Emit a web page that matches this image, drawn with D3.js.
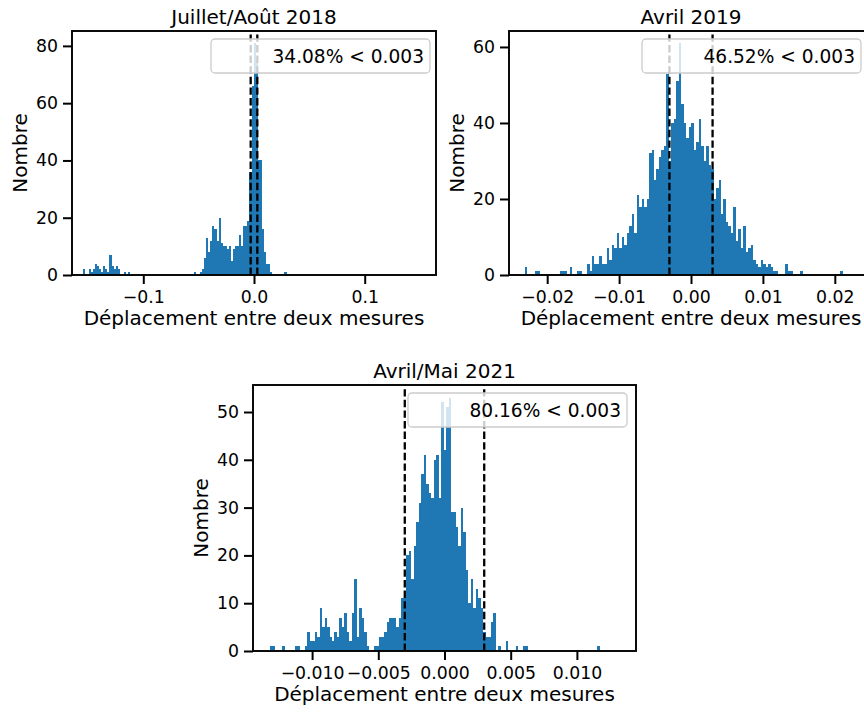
<!DOCTYPE html>
<html><head><meta charset="utf-8">
<script src="https://cdn.jsdelivr.net/npm/d3@7"></script>
<style>body{margin:0;background:#fff}</style>
</head><body>
<script>
// ---------------- DATA ----------------
const titles = ["Juillet/Août 2018", "Avril 2019", "Avril/Mai 2021"];
const legendTexts = ["34.08% < 0.003", "46.52% < 0.003", "80.16% < 0.003"];
const threshold = 0.003;
const xLabelText = "Déplacement entre deux mesures";
const yLabelText = "Nombre";

// Juillet/Août 2018 histogram
const binStart2018 = -0.15474, binWidth2018 = 0.00186;
const counts2018 = [2,0,0,2,1,2,4,3,2,1,3,2,1,7,3,2,3,2,0,0,1,0,1,
  0,0,0,0,0,0,0,0,0,0,0,0,0,0,0,0,0,0,0,0,0,0,0,0,0,0,0,0,0,0,0,
  1,0,0,
  1,2,6,13,8,12,17,16,12,20,11,10,10,9,10,5,9,10,10,14,10,17,17,19,36,66,81,74,40,40,16,8,4,4,1,
  0,0,0,0,0,0,1];
const xTicks2018 = [-0.1, 0, 0.1];
const xTickLabels2018 = ["−0.1", "0.0", "0.1"];
const yTicks2018 = [0, 20, 40, 60, 80];

// Avril 2019 histogram
const binStart2019 = -0.023085, binWidth2019 = 0.000345;
const counts2019 = [2,0,0,0,1,1,0,0,0,0,0,0,0,0,1,1,1,0,2,0,0,1,1,0,0,3,1,5,3,3,
  5,3,3,7,4,8,7,11,7,10,8,11,13,16,11,21,18,20,18,20,32,33,25,28,31,33,34,53,
  30,40,41,51,
  61,45,40,36,39,40,33,35,41,34,30,34,29,28,20,23,25,16,20,14,13,11,18,9,12,7,13,6,7,8,4,3,2,4,3,2,3,
  2,1,1,0,0,0,3,1,1,0,0,0,1,
  0,0,0,0,0,0,0,0,0,0,0,0,0,0,0,1];
const xTicks2019 = [-0.02, -0.01, 0, 0.01, 0.02];
const xTickLabels2019 = ["−0.02", "−0.01", "0.00", "0.01", "0.02"];
const yTicks2019 = [0, 20, 40, 60];

// Avril/Mai 2021 histogram
const binStart2021 = -0.013180, binWidth2021 = 0.0001873;
const counts2021 = [1,1,0,0,0,1,0,0,0,0,1,1,0,0,1,4,2,2,4,3,
  9,5,7,5,3,2,4,3,7,5,8,4,2,8,15,3,9,7,4,1,
  0,0,
  1,1,3,3,4,6,7,7,7,5,7,11,11,
  20,21,15,22,27,31,37,41,35,33,32,40,41,32,52,42,51,53,29,29,26,22,30,25,17,10,15,9,13,11,9,
  4,3,3,6,8,0,1,0,0,2,0,0,0,1,0,0,1,1,
  0,0,0,0,0,0,0,0,0,0,0,0,0,0,0,0,0,0,0,0,0,0,0,0,0,0,0,0,1];
const xTicks2021 = [-0.010, -0.005, 0, 0.005, 0.010];
const xTickLabels2021 = ["−0.010", "−0.005", "0.000", "0.005", "0.010"];
const yTicks2021 = [0, 10, 20, 30, 40, 50];

// ---------------- LAYOUT ----------------
const FONT = "'DejaVu Sans', sans-serif";
const panels = [
  {title: titles[0], legend: legendTexts[0], counts: counts2018, binStart: binStart2018, binWidth: binWidth2018,
   xTicks: xTicks2018, xTickLabels: xTickLabels2018, yTicks: yTicks2018,
   box: {l: 72, r: 436, t: 31, b: 275}, xDom: [-0.1644, 0.1644], yDom: [0, 85.2], legInset: 6},
  {title: titles[1], legend: legendTexts[1], counts: counts2019, binStart: binStart2019, binWidth: binWidth2019,
   xTicks: xTicks2019, xTickLabels: xTickLabels2019, yTicks: yTicks2019,
   box: {l: 509, r: 873, t: 31, b: 275}, xDom: [-0.02531, 0.02531], yDom: [0, 64.2], legInset: 12},
  {title: titles[2], legend: legendTexts[2], counts: counts2021, binStart: binStart2021, binWidth: binWidth2021,
   xTicks: xTicks2021, xTickLabels: xTickLabels2021, yTicks: yTicks2021,
   box: {l: 253, r: 636, t: 385, b: 651}, xDom: [-0.014464, 0.014464], yDom: [0, 55.65], legInset: 9}
];

const svg = d3.select("body").append("svg")
  .attr("width", 864).attr("height", 713)
  .style("font-family", FONT);
svg.append("rect").attr("width", 864).attr("height", 713).attr("fill", "#fff");

panels.forEach(p => {
  const x = d3.scaleLinear().domain(p.xDom).range([p.box.l, p.box.r]);
  const y = d3.scaleLinear().domain(p.yDom).range([p.box.b, p.box.t]);
  const g = svg.append("g");

  const bins = p.counts.map((c, i) => ({x0: p.binStart + i * p.binWidth, x1: p.binStart + (i + 1) * p.binWidth, c}))
    .filter(d => d.c > 0);
  g.append("g").selectAll("rect").data(bins).join("rect")
    .attr("x", d => x(d.x0))
    .attr("width", d => x(d.x1) - x(d.x0))
    .attr("y", d => y(d.c))
    .attr("height", d => y(0) - y(d.c))
    .attr("fill", "#1f77b4")
    .attr("shape-rendering", "crispEdges");

  [-threshold, threshold].forEach(v => {
    g.append("line")
      .attr("x1", x(v)).attr("x2", x(v))
      .attr("y1", p.box.b).attr("y2", p.box.t)
      .attr("stroke", "#000").attr("stroke-width", 2.3)
      .attr("stroke-dasharray", "7.4,3.2");
  });

  // axes
  const xa = g.append("g").attr("transform", `translate(0,${p.box.b})`)
    .call(d3.axisBottom(x).tickValues(p.xTicks).tickFormat((d, i) => p.xTickLabels[i])
      .tickSize(9).tickSizeOuter(0).tickPadding(7));
  const ya = g.append("g").attr("transform", `translate(${p.box.l},0)`)
    .call(d3.axisLeft(y).tickValues(p.yTicks).tickFormat(d3.format("d"))
      .tickSize(9).tickSizeOuter(0).tickPadding(5));
  [xa, ya].forEach(a => {
    a.select(".domain").remove();
    a.selectAll(".tick line").attr("stroke", "#000").attr("stroke-width", 2);
    a.selectAll(".tick text").attr("fill", "#000").style("font-size", "17.3px").style("font-family", FONT);
  });

  // spines
  g.append("rect")
    .attr("x", p.box.l).attr("y", p.box.t)
    .attr("width", p.box.r - p.box.l).attr("height", p.box.b - p.box.t)
    .attr("fill", "none").attr("stroke", "#000").attr("stroke-width", 1.9);

  // title and labels
  const cx = (p.box.l + p.box.r) / 2;
  g.append("text").attr("x", cx).attr("y", p.box.t - 7)
    .attr("text-anchor", "middle").style("font-size", "20px").text(p.title);
  g.append("text").attr("x", cx).attr("y", p.box.b + 50)
    .attr("text-anchor", "middle").style("font-size", "20px").text(xLabelText);
  g.append("text")
    .attr("transform", `translate(${p.box.l - 45},${(p.box.t + p.box.b) / 2}) rotate(-90)`)
    .attr("text-anchor", "middle").style("font-size", "20px").text(yLabelText);

  // legend
  const lw = 219, lh = 34;
  const lr = p.box.r - p.legInset;
  const lt = p.box.t + 8;
  g.append("rect").attr("x", lr - lw).attr("y", lt).attr("width", lw).attr("height", lh)
    .attr("rx", 4).attr("fill", "#fff").attr("fill-opacity", 0.8)
    .attr("stroke", "#cccccc").attr("stroke-width", 1.3);
  g.append("text").attr("x", lr - 6).attr("y", lt + lh / 2).attr("dy", "0.35em")
    .attr("text-anchor", "end").style("font-size", "18.6px").text(p.legend);
});
</script>
</body></html>
